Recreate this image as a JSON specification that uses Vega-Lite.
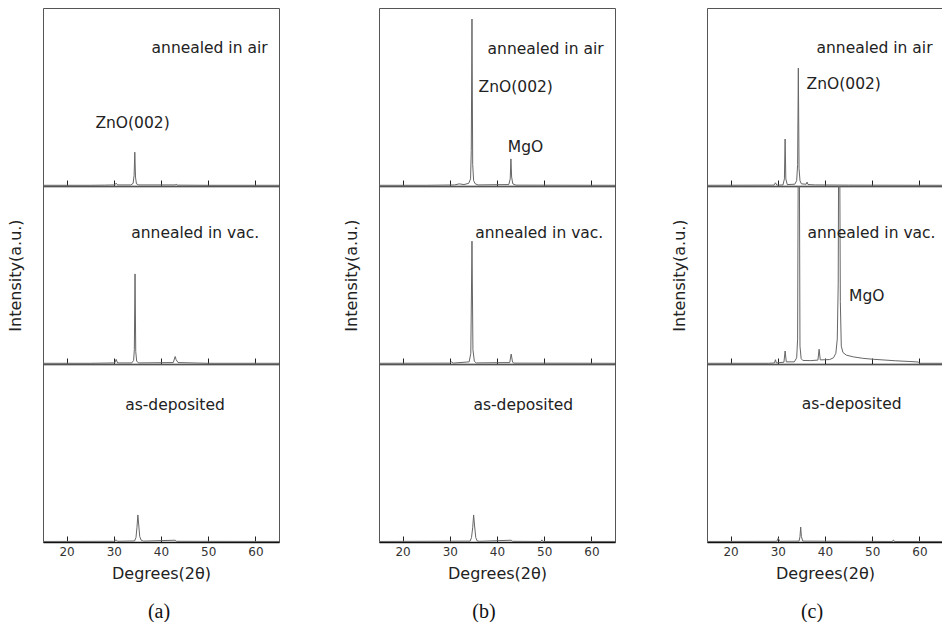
{
  "$schema": "https://vega.github.io/schema/vega-lite/v6.json",
  "background": "white",
  "padding": {"left": 6, "top": 7, "right": 0, "bottom": 0},
  "config": {
    "view": {"stroke": "#555", "strokeWidth": 1},
    "font": "DejaVu Sans",
    "title": {"font": "Liberation Serif", "fontSize": 20, "fontWeight": "normal", "color": "#111", "anchor": "middle"}
  },
  "datasets": {
    "xrd": [
      {"s":"a","c":"air","x":15,"y":0.4},{"s":"a","c":"air","x":25,"y":0.4},{"s":"a","c":"air","x":28,"y":0.5},{"s":"a","c":"air","x":30.2,"y":0.6},{"s":"a","c":"air","x":30.5,"y":1.6},{"s":"a","c":"air","x":30.8,"y":0.6},{"s":"a","c":"air","x":33.6,"y":0.6},{"s":"a","c":"air","x":34.1,"y":1.5},{"s":"a","c":"air","x":34.3,"y":6},{"s":"a","c":"air","x":34.45,"y":19},{"s":"a","c":"air","x":34.6,"y":5},{"s":"a","c":"air","x":34.8,"y":1.2},{"s":"a","c":"air","x":35.3,"y":0.6},{"s":"a","c":"air","x":43,"y":0.6},{"s":"a","c":"air","x":43.2,"y":1.0},{"s":"a","c":"air","x":43.4,"y":0.5},{"s":"a","c":"air","x":50,"y":0.4},{"s":"a","c":"air","x":65,"y":0.4},
      {"s":"a","c":"vac","x":15,"y":0.4},{"s":"a","c":"vac","x":25,"y":0.4},{"s":"a","c":"vac","x":30.2,"y":0.6},{"s":"a","c":"vac","x":30.5,"y":2.6},{"s":"a","c":"vac","x":30.8,"y":0.6},{"s":"a","c":"vac","x":33.8,"y":0.6},{"s":"a","c":"vac","x":34.2,"y":2},{"s":"a","c":"vac","x":34.35,"y":8},{"s":"a","c":"vac","x":34.5,"y":50.6},{"s":"a","c":"vac","x":34.65,"y":7},{"s":"a","c":"vac","x":34.85,"y":1.5},{"s":"a","c":"vac","x":35.3,"y":0.6},{"s":"a","c":"vac","x":42.6,"y":0.8},{"s":"a","c":"vac","x":43.0,"y":4.2},{"s":"a","c":"vac","x":43.2,"y":2.5},{"s":"a","c":"vac","x":43.6,"y":0.8},{"s":"a","c":"vac","x":50,"y":0.4},{"s":"a","c":"vac","x":65,"y":0.4},
      {"s":"a","c":"dep","x":15,"y":0.3},{"s":"a","c":"dep","x":30,"y":0.4},{"s":"a","c":"dep","x":30.5,"y":1.2},{"s":"a","c":"dep","x":30.8,"y":0.4},{"s":"a","c":"dep","x":34.4,"y":0.6},{"s":"a","c":"dep","x":34.7,"y":2.5},{"s":"a","c":"dep","x":34.9,"y":8},{"s":"a","c":"dep","x":35.1,"y":15.2},{"s":"a","c":"dep","x":35.3,"y":9},{"s":"a","c":"dep","x":35.5,"y":3},{"s":"a","c":"dep","x":35.8,"y":1},{"s":"a","c":"dep","x":36.3,"y":0.5},{"s":"a","c":"dep","x":43,"y":1},{"s":"a","c":"dep","x":43.3,"y":0.4},{"s":"a","c":"dep","x":65,"y":0.3},
      {"s":"b","c":"air","x":15,"y":0.4},{"s":"b","c":"air","x":25,"y":0.4},{"s":"b","c":"air","x":31,"y":0.6},{"s":"b","c":"air","x":32,"y":1.2},{"s":"b","c":"air","x":33,"y":0.8},{"s":"b","c":"air","x":34,"y":1.5},{"s":"b","c":"air","x":34.4,"y":4},{"s":"b","c":"air","x":34.55,"y":20},{"s":"b","c":"air","x":34.7,"y":93.8},{"s":"b","c":"air","x":34.85,"y":12},{"s":"b","c":"air","x":35.05,"y":3},{"s":"b","c":"air","x":35.4,"y":1.2},{"s":"b","c":"air","x":36,"y":0.6},{"s":"b","c":"air","x":42.5,"y":0.8},{"s":"b","c":"air","x":42.8,"y":4},{"s":"b","c":"air","x":42.95,"y":15.2},{"s":"b","c":"air","x":43.1,"y":5},{"s":"b","c":"air","x":43.35,"y":1.2},{"s":"b","c":"air","x":44,"y":0.5},{"s":"b","c":"air","x":65,"y":0.4},
      {"s":"b","c":"vac","x":15,"y":0.4},{"s":"b","c":"vac","x":30,"y":0.5},{"s":"b","c":"vac","x":30.4,"y":1.2},{"s":"b","c":"vac","x":30.7,"y":0.5},{"s":"b","c":"vac","x":34.1,"y":1.2},{"s":"b","c":"vac","x":34.45,"y":6},{"s":"b","c":"vac","x":34.7,"y":69},{"s":"b","c":"vac","x":34.9,"y":8},{"s":"b","c":"vac","x":35.2,"y":1.5},{"s":"b","c":"vac","x":35.6,"y":0.6},{"s":"b","c":"vac","x":42.7,"y":0.8},{"s":"b","c":"vac","x":43.0,"y":5.6},{"s":"b","c":"vac","x":43.3,"y":1},{"s":"b","c":"vac","x":43.6,"y":0.5},{"s":"b","c":"vac","x":65,"y":0.4},
      {"s":"b","c":"dep","x":15,"y":0.3},{"s":"b","c":"dep","x":34.3,"y":0.5},{"s":"b","c":"dep","x":34.6,"y":2.5},{"s":"b","c":"dep","x":34.85,"y":8},{"s":"b","c":"dep","x":35.05,"y":15.2},{"s":"b","c":"dep","x":35.25,"y":9},{"s":"b","c":"dep","x":35.5,"y":2.5},{"s":"b","c":"dep","x":35.8,"y":0.6},{"s":"b","c":"dep","x":36.3,"y":0.4},{"s":"b","c":"dep","x":43,"y":1},{"s":"b","c":"dep","x":43.3,"y":0.4},{"s":"b","c":"dep","x":49.3,"y":0.3},{"s":"b","c":"dep","x":49.5,"y":1.2},{"s":"b","c":"dep","x":49.7,"y":0.3},{"s":"b","c":"dep","x":65,"y":0.3},
      {"s":"c","c":"air","x":15,"y":0.4},{"s":"c","c":"air","x":29.2,"y":0.5},{"s":"c","c":"air","x":29.5,"y":1.8},{"s":"c","c":"air","x":29.8,"y":0.5},{"s":"c","c":"air","x":31.1,"y":0.6},{"s":"c","c":"air","x":31.4,"y":4},{"s":"c","c":"air","x":31.55,"y":26.4},{"s":"c","c":"air","x":31.7,"y":4},{"s":"c","c":"air","x":32,"y":0.8},{"s":"c","c":"air","x":33.6,"y":1},{"s":"c","c":"air","x":34.0,"y":3},{"s":"c","c":"air","x":34.2,"y":12},{"s":"c","c":"air","x":34.35,"y":66.3},{"s":"c","c":"air","x":34.5,"y":10},{"s":"c","c":"air","x":34.7,"y":3},{"s":"c","c":"air","x":35,"y":1.2},{"s":"c","c":"air","x":36,"y":1},{"s":"c","c":"air","x":36.2,"y":2.2},{"s":"c","c":"air","x":36.4,"y":0.8},{"s":"c","c":"air","x":38,"y":0.6},{"s":"c","c":"air","x":45,"y":0.5},{"s":"c","c":"air","x":65,"y":0.4},
      {"s":"c","c":"vac","x":15,"y":0.4},{"s":"c","c":"vac","x":28,"y":0.4},{"s":"c","c":"vac","x":29.3,"y":0.6},{"s":"c","c":"vac","x":29.5,"y":2.4},{"s":"c","c":"vac","x":29.7,"y":0.6},{"s":"c","c":"vac","x":31.3,"y":1},{"s":"c","c":"vac","x":31.55,"y":7.3},{"s":"c","c":"vac","x":31.8,"y":1.2},{"s":"c","c":"vac","x":33.5,"y":1.2},{"s":"c","c":"vac","x":34.0,"y":3.5},{"s":"c","c":"vac","x":34.2,"y":14},{"s":"c","c":"vac","x":34.35,"y":130},{"s":"c","c":"vac","x":34.55,"y":130},{"s":"c","c":"vac","x":34.7,"y":10},{"s":"c","c":"vac","x":34.95,"y":3},{"s":"c","c":"vac","x":35.3,"y":2},{"s":"c","c":"vac","x":37,"y":1.9},{"s":"c","c":"vac","x":38.5,"y":2.2},{"s":"c","c":"vac","x":38.75,"y":8.3},{"s":"c","c":"vac","x":39,"y":2.3},{"s":"c","c":"vac","x":41,"y":2.5},{"s":"c","c":"vac","x":41.8,"y":3.5},{"s":"c","c":"vac","x":42.3,"y":6},{"s":"c","c":"vac","x":42.6,"y":14},{"s":"c","c":"vac","x":42.8,"y":45},{"s":"c","c":"vac","x":42.9,"y":130},{"s":"c","c":"vac","x":43.1,"y":130},{"s":"c","c":"vac","x":43.25,"y":35},{"s":"c","c":"vac","x":43.45,"y":10},{"s":"c","c":"vac","x":43.8,"y":6.5},{"s":"c","c":"vac","x":44.5,"y":5},{"s":"c","c":"vac","x":46,"y":4},{"s":"c","c":"vac","x":48,"y":3.2},{"s":"c","c":"vac","x":50,"y":2.7},{"s":"c","c":"vac","x":55,"y":1.8},{"s":"c","c":"vac","x":58,"y":1.4},{"s":"c","c":"vac","x":59.8,"y":1.1},{"s":"c","c":"vac","x":60,"y":0.4},{"s":"c","c":"vac","x":65,"y":0.4},
      {"s":"c","c":"dep","x":15,"y":0.3},{"s":"c","c":"dep","x":29.8,"y":0.4},{"s":"c","c":"dep","x":30.1,"y":2.2},{"s":"c","c":"dep","x":30.4,"y":0.4},{"s":"c","c":"dep","x":34.5,"y":0.5},{"s":"c","c":"dep","x":34.7,"y":3},{"s":"c","c":"dep","x":34.85,"y":8.4},{"s":"c","c":"dep","x":35.0,"y":3},{"s":"c","c":"dep","x":35.3,"y":0.5},{"s":"c","c":"dep","x":54.3,"y":0.3},{"s":"c","c":"dep","x":54.5,"y":1.2},{"s":"c","c":"dep","x":54.7,"y":0.3},{"s":"c","c":"dep","x":65,"y":0.3}
    ],
    "labels": [
      {"s":"a","c":"air","x":38.0,"y":77.5,"t":"annealed in air"},
      {"s":"a","c":"air","x":26.1,"y":35.6,"t":"ZnO(002)"},
      {"s":"a","c":"vac","x":33.7,"y":73.4,"t":"annealed in vac."},
      {"s":"a","c":"dep","x":32.4,"y":76.8,"t":"as-deposited"},
      {"s":"b","c":"air","x":38.0,"y":77.0,"t":"annealed in air"},
      {"s":"b","c":"air","x":36.1,"y":55.4,"t":"ZnO(002)"},
      {"s":"b","c":"air","x":42.3,"y":22.0,"t":"MgO"},
      {"s":"b","c":"vac","x":35.4,"y":73.4,"t":"annealed in vac."},
      {"s":"b","c":"dep","x":35.0,"y":76.8,"t":"as-deposited"},
      {"s":"c","c":"air","x":38.2,"y":77.7,"t":"annealed in air"},
      {"s":"c","c":"air","x":36.1,"y":57.1,"t":"ZnO(002)"},
      {"s":"c","c":"vac","x":36.3,"y":73.8,"t":"annealed in vac."},
      {"s":"c","c":"vac","x":45.1,"y":38.2,"t":"MgO"},
      {"s":"c","c":"dep","x":35.1,"y":77.4,"t":"as-deposited"}
    ]
  },
  "spacing": 62,
  "hconcat": [
    {
      "spacing": 0, "bounds": "flush",
      "title": {"text": "(a)", "orient": "bottom", "offset": 20, "dx": 16},
      "vconcat": [
        {"width": 236, "height": 178, "layer": [
          {"data": {"name": "xrd"}, "transform": [{"filter": "datum.s==='a' && datum.c==='air'"}], "mark": {"type": "line", "color": "#666", "strokeWidth": 1, "clip": true},
           "encoding": {"x": {"field": "x", "type": "quantitative", "scale": {"domain": [15, 65], "nice": false, "zero": false}, "axis": {"title": null, "labels": false, "grid": false, "values": [20,25,30,35,40,45,50,55,60], "tickSize": {"condition": {"test": "datum.value % 10 === 0", "value": -6}, "value": -3}, "tickColor": "#222", "domainColor": "#111", "domainWidth": 1.5}},
                        "y": {"field": "y", "type": "quantitative", "scale": {"domain": [0, 100]}, "axis": {"title": null, "labels": false, "ticks": false, "domain": false, "grid": false}}}},
          {"data": {"name": "labels"}, "transform": [{"filter": "datum.s==='a' && datum.c==='air'"}], "mark": {"type": "text", "align": "left", "baseline": "middle", "fontSize": 15.5, "color": "#222", "font": "DejaVu Sans"},
           "encoding": {"x": {"field": "x", "type": "quantitative"}, "y": {"field": "y", "type": "quantitative"}, "text": {"field": "t"}}}
        ]},
        {"width": 236, "height": 178, "layer": [
          {"data": {"name": "xrd"}, "transform": [{"filter": "datum.s==='a' && datum.c==='vac'"}], "mark": {"type": "line", "color": "#666", "strokeWidth": 1, "clip": true},
           "encoding": {"x": {"field": "x", "type": "quantitative", "scale": {"domain": [15, 65], "nice": false, "zero": false}, "axis": {"title": null, "labels": false, "grid": false, "values": [20,25,30,35,40,45,50,55,60], "tickSize": {"condition": {"test": "datum.value % 10 === 0", "value": -6}, "value": -3}, "tickColor": "#222", "domainColor": "#111", "domainWidth": 1.5}},
                        "y": {"field": "y", "type": "quantitative", "scale": {"domain": [0, 100]}, "axis": {"title": "Intensity(a.u.)", "labels": false, "ticks": false, "domain": false, "grid": false, "titleFont": "DejaVu Sans", "titleFontSize": 16, "titleFontWeight": "normal", "titleColor": "#222", "titlePadding": 20}}}},
          {"data": {"name": "labels"}, "transform": [{"filter": "datum.s==='a' && datum.c==='vac'"}], "mark": {"type": "text", "align": "left", "baseline": "middle", "fontSize": 15.5, "color": "#222", "font": "DejaVu Sans"},
           "encoding": {"x": {"field": "x", "type": "quantitative"}, "y": {"field": "y", "type": "quantitative"}, "text": {"field": "t"}}}
        ]},
        {"width": 236, "height": 178, "layer": [
          {"data": {"name": "xrd"}, "transform": [{"filter": "datum.s==='a' && datum.c==='dep'"}], "mark": {"type": "line", "color": "#666", "strokeWidth": 1, "clip": true},
           "encoding": {"x": {"field": "x", "type": "quantitative", "scale": {"domain": [15, 65], "nice": false, "zero": false}, "axis": {"title": "Degrees(2θ)", "grid": false, "values": [20,25,30,35,40,45,50,55,60], "labelExpr": "datum.value % 10 === 0 ? datum.label : ''", "tickSize": {"condition": {"test": "datum.value % 10 === 0", "value": -6}, "value": -3}, "tickColor": "#222", "domainColor": "#111", "domainWidth": 1.5, "labelFont": "DejaVu Sans", "labelFontSize": 12, "labelColor": "#333", "labelPadding": 10, "titleFont": "DejaVu Sans", "titleFontSize": 16, "titleFontWeight": "normal", "titleColor": "#222", "titlePadding": 8}},
                        "y": {"field": "y", "type": "quantitative", "scale": {"domain": [0, 100]}, "axis": {"title": null, "labels": false, "ticks": false, "domain": false, "grid": false}}}},
          {"data": {"name": "labels"}, "transform": [{"filter": "datum.s==='a' && datum.c==='dep'"}], "mark": {"type": "text", "align": "left", "baseline": "middle", "fontSize": 15.5, "color": "#222", "font": "DejaVu Sans"},
           "encoding": {"x": {"field": "x", "type": "quantitative"}, "y": {"field": "y", "type": "quantitative"}, "text": {"field": "t"}}}
        ]}
      ]
    },
    {
      "spacing": 54,
      "hconcat": [
        {
          "spacing": 0, "bounds": "flush",
          "title": {"text": "(b)", "orient": "bottom", "offset": 20, "dx": 5},
          "vconcat": [
            {"width": 236, "height": 178, "layer": [
              {"data": {"name": "xrd"}, "transform": [{"filter": "datum.s==='b' && datum.c==='air'"}], "mark": {"type": "line", "color": "#666", "strokeWidth": 1, "clip": true},
               "encoding": {"x": {"field": "x", "type": "quantitative", "scale": {"domain": [15, 65], "nice": false, "zero": false}, "axis": {"title": null, "labels": false, "grid": false, "values": [20,25,30,35,40,45,50,55,60], "tickSize": {"condition": {"test": "datum.value % 10 === 0", "value": -6}, "value": -3}, "tickColor": "#222", "domainColor": "#111", "domainWidth": 1.5}},
                            "y": {"field": "y", "type": "quantitative", "scale": {"domain": [0, 100]}, "axis": {"title": null, "labels": false, "ticks": false, "domain": false, "grid": false}}}},
              {"data": {"name": "labels"}, "transform": [{"filter": "datum.s==='b' && datum.c==='air'"}], "mark": {"type": "text", "align": "left", "baseline": "middle", "fontSize": 15.5, "color": "#222", "font": "DejaVu Sans"},
               "encoding": {"x": {"field": "x", "type": "quantitative"}, "y": {"field": "y", "type": "quantitative"}, "text": {"field": "t"}}}
            ]},
            {"width": 236, "height": 178, "layer": [
              {"data": {"name": "xrd"}, "transform": [{"filter": "datum.s==='b' && datum.c==='vac'"}], "mark": {"type": "line", "color": "#666", "strokeWidth": 1, "clip": true},
               "encoding": {"x": {"field": "x", "type": "quantitative", "scale": {"domain": [15, 65], "nice": false, "zero": false}, "axis": {"title": null, "labels": false, "grid": false, "values": [20,25,30,35,40,45,50,55,60], "tickSize": {"condition": {"test": "datum.value % 10 === 0", "value": -6}, "value": -3}, "tickColor": "#222", "domainColor": "#111", "domainWidth": 1.5}},
                            "y": {"field": "y", "type": "quantitative", "scale": {"domain": [0, 100]}, "axis": {"title": "Intensity(a.u.)", "labels": false, "ticks": false, "domain": false, "grid": false, "titleFont": "DejaVu Sans", "titleFontSize": 16, "titleFontWeight": "normal", "titleColor": "#222", "titlePadding": 20}}}},
              {"data": {"name": "labels"}, "transform": [{"filter": "datum.s==='b' && datum.c==='vac'"}], "mark": {"type": "text", "align": "left", "baseline": "middle", "fontSize": 15.5, "color": "#222", "font": "DejaVu Sans"},
               "encoding": {"x": {"field": "x", "type": "quantitative"}, "y": {"field": "y", "type": "quantitative"}, "text": {"field": "t"}}}
            ]},
            {"width": 236, "height": 178, "layer": [
              {"data": {"name": "xrd"}, "transform": [{"filter": "datum.s==='b' && datum.c==='dep'"}], "mark": {"type": "line", "color": "#666", "strokeWidth": 1, "clip": true},
               "encoding": {"x": {"field": "x", "type": "quantitative", "scale": {"domain": [15, 65], "nice": false, "zero": false}, "axis": {"title": "Degrees(2θ)", "grid": false, "values": [20,25,30,35,40,45,50,55,60], "labelExpr": "datum.value % 10 === 0 ? datum.label : ''", "tickSize": {"condition": {"test": "datum.value % 10 === 0", "value": -6}, "value": -3}, "tickColor": "#222", "domainColor": "#111", "domainWidth": 1.5, "labelFont": "DejaVu Sans", "labelFontSize": 12, "labelColor": "#333", "labelPadding": 10, "titleFont": "DejaVu Sans", "titleFontSize": 16, "titleFontWeight": "normal", "titleColor": "#222", "titlePadding": 8}},
                            "y": {"field": "y", "type": "quantitative", "scale": {"domain": [0, 100]}, "axis": {"title": null, "labels": false, "ticks": false, "domain": false, "grid": false}}}},
              {"data": {"name": "labels"}, "transform": [{"filter": "datum.s==='b' && datum.c==='dep'"}], "mark": {"type": "text", "align": "left", "baseline": "middle", "fontSize": 15.5, "color": "#222", "font": "DejaVu Sans"},
               "encoding": {"x": {"field": "x", "type": "quantitative"}, "y": {"field": "y", "type": "quantitative"}, "text": {"field": "t"}}}
            ]}
          ]
        },
        {
          "spacing": 0, "bounds": "flush",
          "title": {"text": "(c)", "orient": "bottom", "offset": 20, "dx": 5},
          "vconcat": [
            {"width": 236, "height": 178, "layer": [
              {"data": {"name": "xrd"}, "transform": [{"filter": "datum.s==='c' && datum.c==='air'"}], "mark": {"type": "line", "color": "#666", "strokeWidth": 1, "clip": true},
               "encoding": {"x": {"field": "x", "type": "quantitative", "scale": {"domain": [15, 65], "nice": false, "zero": false}, "axis": {"title": null, "labels": false, "grid": false, "values": [20,25,30,35,40,45,50,55,60], "tickSize": {"condition": {"test": "datum.value % 10 === 0", "value": -6}, "value": -3}, "tickColor": "#222", "domainColor": "#111", "domainWidth": 1.5}},
                            "y": {"field": "y", "type": "quantitative", "scale": {"domain": [0, 100]}, "axis": {"title": null, "labels": false, "ticks": false, "domain": false, "grid": false}}}},
              {"data": {"name": "labels"}, "transform": [{"filter": "datum.s==='c' && datum.c==='air'"}], "mark": {"type": "text", "align": "left", "baseline": "middle", "fontSize": 15.5, "color": "#222", "font": "DejaVu Sans"},
               "encoding": {"x": {"field": "x", "type": "quantitative"}, "y": {"field": "y", "type": "quantitative"}, "text": {"field": "t"}}}
            ]},
            {"width": 236, "height": 178, "layer": [
              {"data": {"name": "xrd"}, "transform": [{"filter": "datum.s==='c' && datum.c==='vac'"}], "mark": {"type": "line", "color": "#666", "strokeWidth": 1, "clip": true},
               "encoding": {"x": {"field": "x", "type": "quantitative", "scale": {"domain": [15, 65], "nice": false, "zero": false}, "axis": {"title": null, "labels": false, "grid": false, "values": [20,25,30,35,40,45,50,55,60], "tickSize": {"condition": {"test": "datum.value % 10 === 0", "value": -6}, "value": -3}, "tickColor": "#222", "domainColor": "#111", "domainWidth": 1.5}},
                            "y": {"field": "y", "type": "quantitative", "scale": {"domain": [0, 100]}, "axis": {"title": "Intensity(a.u.)", "labels": false, "ticks": false, "domain": false, "grid": false, "titleFont": "DejaVu Sans", "titleFontSize": 16, "titleFontWeight": "normal", "titleColor": "#222", "titlePadding": 20}}}},
              {"data": {"name": "labels"}, "transform": [{"filter": "datum.s==='c' && datum.c==='vac'"}], "mark": {"type": "text", "align": "left", "baseline": "middle", "fontSize": 15.5, "color": "#222", "font": "DejaVu Sans"},
               "encoding": {"x": {"field": "x", "type": "quantitative"}, "y": {"field": "y", "type": "quantitative"}, "text": {"field": "t"}}}
            ]},
            {"width": 236, "height": 178, "layer": [
              {"data": {"name": "xrd"}, "transform": [{"filter": "datum.s==='c' && datum.c==='dep'"}], "mark": {"type": "line", "color": "#666", "strokeWidth": 1, "clip": true},
               "encoding": {"x": {"field": "x", "type": "quantitative", "scale": {"domain": [15, 65], "nice": false, "zero": false}, "axis": {"title": "Degrees(2θ)", "grid": false, "values": [20,25,30,35,40,45,50,55,60], "labelExpr": "datum.value % 10 === 0 ? datum.label : ''", "tickSize": {"condition": {"test": "datum.value % 10 === 0", "value": -6}, "value": -3}, "tickColor": "#222", "domainColor": "#111", "domainWidth": 1.5, "labelFont": "DejaVu Sans", "labelFontSize": 12, "labelColor": "#333", "labelPadding": 10, "titleFont": "DejaVu Sans", "titleFontSize": 16, "titleFontWeight": "normal", "titleColor": "#222", "titlePadding": 8}},
                            "y": {"field": "y", "type": "quantitative", "scale": {"domain": [0, 100]}, "axis": {"title": null, "labels": false, "ticks": false, "domain": false, "grid": false}}}},
              {"data": {"name": "labels"}, "transform": [{"filter": "datum.s==='c' && datum.c==='dep'"}], "mark": {"type": "text", "align": "left", "baseline": "middle", "fontSize": 15.5, "color": "#222", "font": "DejaVu Sans"},
               "encoding": {"x": {"field": "x", "type": "quantitative"}, "y": {"field": "y", "type": "quantitative"}, "text": {"field": "t"}}}
            ]}
          ]
        }
      ]
    }
  ]
}
